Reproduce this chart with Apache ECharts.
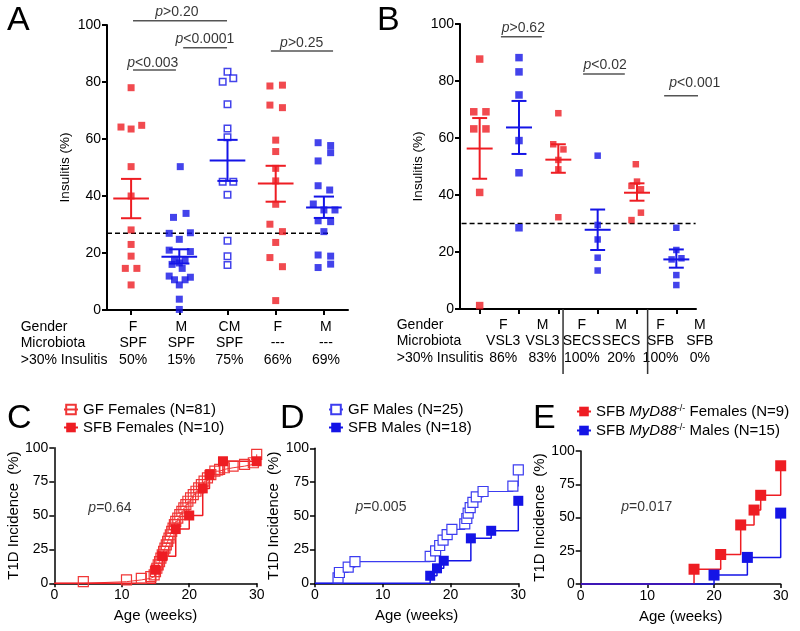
<!DOCTYPE html>
<html><head><meta charset="utf-8">
<script src="https://cdn.jsdelivr.net/npm/echarts@6/dist/echarts.min.js"></script>
<style>html,body{margin:0;padding:0;background:#fff}#c{width:800px;height:631px}</style>
</head><body><div id="c"></div>
<script>
const RED='#ee1d23', BLUE='#1414e6', PINK='#f03636', LBLUE='#3c3cf0';
const FONT='Liberation Sans, Arial, Helvetica, sans-serif';

// ---------- Panel A ----------
const aGender=['F','M','CM','F','M'];
const aMicro=['SPF','SPF','SPF','---','---'];
const aPct=['50%','15%','75%','66%','69%'];
const aF_SPF=[[1,78],[0.79,64.2],[1,63.5],[1.22,64.8],[1,50.3],[1,40],[1,28.1],[1,23],[1,18.9],[0.88,14.6],[1.12,14.6],[1,8.8]];
const aM_SPF=[[2.02,50.3],[1.88,32.5],[2.14,33.9],[1.79,26.9],[2.23,27.1],[2,24.8],[1.79,21],[2.23,20.5],[1.9,17.8],[2.12,17.6],[1.85,16],[2,16.5],[2.06,14.6],[1.79,11.9],[2.23,11.5],[1.9,10.6],[2.12,10.6],[2,8.8],[2,3.8],[2,0.2]];
const aCM_SPF=[[3,83.6],[2.9,80.1],[3.12,81.3],[3,72.2],[3,63.7],[3,60.6],[2.9,45],[3.12,45],[3,40.4],[3,24.3],[3,18.9],[3,15.8]];
const aF_GF=[[3.88,78.6],[4.14,78.9],[3.88,71.9],[4.14,71],[4,59.6],[4,55.6],[4,49.7],[4,45.3],[4,37.1],[3.88,30.1],[4.14,27.5],[4,23.7],[3.88,18.4],[4.14,15.2],[4,3.3]];
const aM_GF=[[4.88,58.7],[5.14,57.7],[5.14,55.2],[4.88,52.3],[4.88,43.6],[5.12,42.1],[4.78,37.2],[5,35.1],[5.23,35.1],[4.88,31.3],[5.14,31],[5,27.5],[4.88,19.3],[5.14,18.9],[4.88,14.9],[5.14,16.1]];
// [x, mean, low, high]
const aErr=[[1,39.1,32.2,46],[2,18.7,16.3,21.3],[3,52.5,45.3,59.7],[4,44.4,38,50.6],[5,36,32.3,39.8]];
const aErrColor=[RED,BLUE,BLUE,RED,BLUE];
const aThreshold=26.9;
const aSig=[[1.04,2.99,101.5],[2.08,2.99,92],[1.04,1.93,84.2],[3.9,5.19,90.9]];
const aSigText=[[1.95,104.6,'>0.20'],[2.53,95.1,'<0.0001'],[1.45,86.7,'<0.003'],[4.54,93.7,'>0.25']];

// ---------- Panel B ----------
const bGender=['F','M','F','M','F','M'];
const bMicro=['VSL3','VSL3','SECS','SECS','SFB','SFB'];
const bPct=['86%','83%','100%','20%','100%','0%'];
const bF_VSL3=[[1,87.7],[0.85,69.2],[1.16,69.2],[0.85,63.2],[1.16,63.2],[1,40.9],[1,1.2]];
const bM_VSL3=[[2,88.2],[2,83.2],[2,75.1],[2,59.1],[2,47.8],[2,28.5]];
const bF_SECS=[[3,68.7],[2.87,57.8],[3.13,56],[3,52.3],[3,49],[3,32.2]];
const bM_SECS=[[4,53.8],[4,29.5],[4,24.4],[4,18],[4,13.5]];
const bF_SFB=[[4.97,50.8],[4.86,43.2],[5,44.7],[5.1,42],[5.1,33.8],[4.86,31.2]];
const bM_SFB=[[6,28.5],[6,20.7],[5.88,17.4],[6.13,17.8],[6,11.9],[6,8.4]];
const bErr=[[1,56.3,45.7,67],[2,63.7,54.4,73],[3,52.4,47.8,57.8],[4,27.8,20.7,34.9],[5,40.8,38,44.1],[6,17.4,14.5,20.9]];
const bErrColor=[RED,BLUE,RED,BLUE,RED,BLUE];
const bThreshold=30;
const bSig=[[1.54,2.58,95.5],[3.63,4.69,82.5],[5.69,6.73,74.8]];
const bSigText=[[2.11,98.5,'>0.62'],[4.19,85.6,'<0.02'],[6.47,79.4,'<0.001']];
const bSeparators=[3.12,5.27];

// ---------- Panel C ----------
const cNames=['GF Females (N=81)','SFB Females (N=10)'];
const cGF=[[0,0],[4.3,1.2],[10.7,2.5],[12.9,3.7],[14.3,4.9],[14.8,6.2],[15,8.6],[15.2,11.1],[15.4,13.6],[15.6,16],[15.8,18.5],[16,21],[16.2,23.5],[16.4,25.9],[16.6,28.4],[16.8,30.9],[17,33.3],[17.2,35.8],[17.4,38.3],[17.6,40.7],[17.8,43.2],[18,45.7],[18.3,48.1],[18.6,50.6],[18.9,53.1],[19.2,55.6],[19.5,58],[19.8,60.5],[20.2,63],[20.6,65.4],[21,67.9],[21.4,70.4],[21.8,72.8],[22.2,75.3],[22.7,77.8],[23.2,80.2],[23.8,82.7],[24.5,84],[25.2,85.2],[26.5,86.4],[28.2,87.7],[29.5,88.9],[30,95.1]];
const cSFB=[[0,0],[15,10],[16,20],[18,40],[20,50],[22,70],[23,80],[25,90],[30,90]];
const cP=[8.25,55.5,'=0.64'];

// ---------- Panel D ----------
const dNames=['GF Males (N=25)','SFB Males (N=18)'];
const dGF=[[0,0],[3.4,4],[3.6,8],[4.9,12],[5.9,16],[17,20],[17.8,24],[18.4,28],[18.9,32],[19.5,36],[20.2,40],[22.1,44],[22.4,48],[22.6,52],[22.9,56],[23.3,60],[23.8,64],[24.8,68],[29.2,72],[30,84]];
const dSFB=[[0,0],[17,5.6],[18,11.1],[19,16.7],[23,33.3],[26,38.9],[30,61.1]];
const dP=[9.73,56.3,'=0.005'];

// ---------- Panel E ----------
const eNames=['SFB MyD88-/- Females (N=9)','SFB MyD88-/- Males (N=15)'];
const eF=[[0,0],[17,11.1],[21,22.2],[24,44.4],[26,55.6],[27,66.7],[30,88.9]];
const eM=[[0,0],[20,6.7],[25,20],[30,53.3]];
const eP=[9.9,57.7,'=0.017'];

// ---------- helpers ----------
function errRenderer(meanHalf, capHalf){
  return function(params, api){
    const x=api.value(0), m=api.value(1), lo=api.value(2), hi=api.value(3);
    const c=api.coord([x,m]), l=api.coord([x,lo]), h=api.coord([x,hi]);
    const u=api.size([1,0])[0];
    const st={stroke:api.visual('color'), lineWidth:2};
    return {type:'group', children:[
      {type:'line', shape:{x1:c[0]-meanHalf*u,y1:c[1],x2:c[0]+meanHalf*u,y2:c[1]}, style:st},
      {type:'line', shape:{x1:l[0],y1:l[1],x2:h[0],y2:h[1]}, style:st},
      {type:'line', shape:{x1:l[0]-capHalf*u,y1:l[1],x2:l[0]+capHalf*u,y2:l[1]}, style:st},
      {type:'line', shape:{x1:h[0]-capHalf*u,y1:h[1],x2:h[0]+capHalf*u,y2:h[1]}, style:st}
    ]};
  };
}
function dots(xi, yi, data, color, size, hollow){
  return {type:'scatter', xAxisIndex:xi, yAxisIndex:yi, data, symbol:'rect', symbolSize:size, clip:false, z:3,
    itemStyle: hollow ? {color:'#fff', borderColor:color, borderWidth:1.5} : {color}};
}
function segLine(xi, yi, pts, color, width, dash){
  return {type:'line', xAxisIndex:xi, yAxisIndex:yi, data:pts, symbol:'none', clip:false, silent:true, z:2,
    lineStyle:{color, width, type: dash || 'solid'}};
}
function pTexts(xi, yi, list, size){
  return {type:'scatter', xAxisIndex:xi, yAxisIndex:yi, symbolSize:0, clip:false, silent:true,
    data:list.map(t=>({value:[t[0],t[1]], name:t[2]})),
    label:{show:true, position:'inside', formatter:p=>'{i|p}{n|'+p.name+'}',
      rich:{i:{fontSize:size,fontStyle:'italic',color:'#000',fontFamily:FONT}, n:{fontSize:size,color:'#000',fontFamily:FONT}}}};
}
function kmSeries(xi, yi, name, data, color, lw, size, fill){
  return {type:'line', name, xAxisIndex:xi, yAxisIndex:yi, step:'end', clip:false,
    data:data.map((d,i)=> i===0 ? {value:d, symbol:'none'} : d),
    symbol:'rect', symbolSize:size, showAllSymbol:true,
    lineStyle:{color, width:lw},
    itemStyle:{color:fill, borderColor:color, borderWidth: fill===color ? 0 : 1.2}};
}
function yAx(grid, interval, name, nameSize, nameGap, lw){
  return {type:'value', gridIndex:grid, min:0, max:100, interval, name, nameLocation:'middle', nameGap,
    nameTextStyle:{fontSize:nameSize,color:'#000',fontFamily:FONT},
    axisLine:{show:true,onZero:false,lineStyle:{color:'#000',width:lw}},
    axisTick:{show:true,length:5,lineStyle:{color:'#000',width:lw}},
    axisLabel:{fontSize:14,color:'#000',margin:6,fontFamily:FONT}, splitLine:{show:false}};
}
function xAge(grid){
  return {type:'value', gridIndex:grid, min:0, max:30, interval:10, name:'Age (weeks)', nameLocation:'middle', nameGap:25,
    nameTextStyle:{fontSize:15,color:'#000',fontFamily:FONT},
    axisLine:{show:true,onZero:false,lineStyle:{color:'#000',width:1.5}},
    axisTick:{show:true,length:4,lineStyle:{color:'#000',width:1.5}},
    axisLabel:{fontSize:14,color:'#000',margin:5,fontFamily:FONT}, splitLine:{show:false}};
}
function catAx(grid, n, gender, micro, pct, margin, padLeft){
  return {type:'category', gridIndex:grid, position:'bottom', data:gender.map((g,i)=>String(i)),
    axisLine:{show:true,onZero:false,lineStyle:{color:'#000',width:2}},
    axisTick:{show:true,alignWithLabel:true,length:5,lineStyle:{color:'#000',width:2}},
    axisLabel:{interval:0, fontSize:14, lineHeight:16.5, color:'#000', margin, padding:[0,0,0,padLeft], fontFamily:FONT,
      formatter:(v,i)=>gender[i]+'\n'+micro[i]+'\n'+pct[i]}, splitLine:{show:false}};
}
function legend(left, top, names, gap, formatter){
  const l={orient:'vertical', left, top, padding:0, data:names, itemWidth:14, itemHeight:12, itemGap:gap, selectedMode:false,
    textStyle:{fontSize:15,color:'#000',fontFamily:FONT,
      rich:{n:{fontSize:15,color:'#000',fontFamily:FONT}, i:{fontSize:15,fontStyle:'italic',color:'#000',fontFamily:FONT}, s:{fontSize:9,verticalAlign:'top',color:'#000',fontFamily:FONT}}}};
  if(formatter) l.formatter=formatter;
  return l;
}

const series=[];
// A: xAxis 0 (value), yAxis 0
series.push(dots(0,0,aF_SPF,RED,7));
series.push(dots(0,0,aM_SPF,BLUE,7));
series.push(dots(0,0,aCM_SPF,BLUE,6.5,true));
series.push(dots(0,0,aF_GF,RED,7));
series.push(dots(0,0,aM_GF,BLUE,7));
series.push({type:'custom', xAxisIndex:0, yAxisIndex:0, renderItem:errRenderer(0.37,0.21), clip:false, z:4,
  data:aErr.map((d,i)=>({value:d, itemStyle:{color:aErrColor[i]}}))});
series.push(segLine(0,0,[[0.5,aThreshold],[5.09,aThreshold]],'#000',1.5,[5,3]));
aSig.forEach(s=>series.push(segLine(0,0,[[s[0],s[2]],[s[1],s[2]]],'#555',1.5)));
series.push(pTexts(0,0,aSigText,14));

// B: xAxis 2 (value), yAxis 1
series.push(dots(2,1,bF_VSL3,RED,7.5));
series.push(dots(2,1,bM_VSL3,BLUE,7.5));
series.push(dots(2,1,bF_SECS,RED,6.5));
series.push(dots(2,1,bM_SECS,BLUE,6.5));
series.push(dots(2,1,bF_SFB,RED,6.5));
series.push(dots(2,1,bM_SFB,BLUE,6.5));
series.push({type:'custom', xAxisIndex:2, yAxisIndex:1, renderItem:errRenderer(0.33,0.19), clip:false, z:4,
  data:bErr.map((d,i)=>({value:d, itemStyle:{color:bErrColor[i]}}))});
series.push(segLine(2,1,[[0.54,bThreshold],[6.49,bThreshold]],'#000',1.5,[5,3]));
bSig.forEach(s=>series.push(segLine(2,1,[[s[0],s[2]],[s[1],s[2]]],'#555',1.5)));
bSeparators.forEach(x=>series.push(segLine(2,1,[[x,0],[x,-22.8]],'#333',1.5)));
series.push(pTexts(2,1,bSigText,14));

// C: xAxis 4, yAxis 2
series.push(kmSeries(4,2,cNames[0],cGF,PINK,1,10,'rgba(255,255,255,0)'));
series.push(kmSeries(4,2,cNames[1],cSFB,RED,1.5,10,RED));
series.push(pTexts(4,2,[cP],14));
// D: xAxis 5, yAxis 3
series.push(kmSeries(5,3,dNames[0],dGF,LBLUE,1.2,10,'#fff'));
series.push(kmSeries(5,3,dNames[1],dSFB,BLUE,1.5,10,BLUE));
series.push(pTexts(5,3,[dP],14));
// E: xAxis 6, yAxis 4
series.push(kmSeries(6,4,eNames[0],eF,RED,1.5,11,RED));
series.push(kmSeries(6,4,eNames[1],eM,BLUE,1.5,11,BLUE));
series.push(pTexts(6,4,[eP],14));

const rowHead='Gender\nMicrobiota\n>30% Insulitis';
const letterStyle=t=>({text:t, fontSize:34, fontFamily:FONT, fill:'#000', align:'left', verticalAlign:'middle'});

const option={
  animation:false,
  textStyle:{fontFamily:FONT},
  grid:[
    {left:107, top:25, width:241, height:285},
    {left:460, top:24, width:236, height:285},
    {left:54.3, top:447.7, width:202.4, height:135.6},
    {left:315, top:448.3, width:203.3, height:135},
    {left:580.7, top:451, width:200, height:133}
  ],
  xAxis:[
    {type:'value', gridIndex:0, min:0.5, max:5.5, show:false, position:'top'},
    catAx(0,5,aGender,aMicro,aPct,8.7,4),
    {type:'value', gridIndex:1, min:0.5, max:6.5, show:false, position:'top'},
    catAx(1,6,bGender,bMicro,bPct,7.7,47),
    xAge(2), xAge(3), xAge(4)
  ],
  yAxis:[
    yAx(0,20,'Insulitis (%)',13.5,35,2),
    yAx(1,20,'Insulitis (%)',13.5,35,2),
    yAx(2,25,'T1D Incidence  (%)',15,23,1.5),
    yAx(3,25,'T1D Incidence  (%)',15,21,1.5),
    yAx(4,25,'T1D Incidence  (%)',15,22,1.5)
  ],
  legend:[
    legend(63,402,cNames,3),
    legend(328,402,dNames,3),
    legend(576,404,eNames,4,name=> name===eNames[0] ? '{n|SFB }{i|MyD88}{s|-/-}{n| Females (N=9)}' : '{n|SFB }{i|MyD88}{s|-/-}{n| Males (N=15)}')
  ],
  graphic:[
    {type:'text', x:7, y:21, style:letterStyle('A')},
    {type:'text', x:377, y:21, style:letterStyle('B')},
    {type:'text', x:7, y:419, style:letterStyle('C')},
    {type:'text', x:280, y:419, style:letterStyle('D')},
    {type:'text', x:533, y:419, style:letterStyle('E')},
    {type:'text', x:20.7, y:318.7, style:{text:rowHead, fontSize:14, lineHeight:16.5, fontFamily:FONT, fill:'#000', align:'left', verticalAlign:'top'}},
    {type:'text', x:396.7, y:316.7, style:{text:rowHead, fontSize:14, lineHeight:16.6, fontFamily:FONT, fill:'#000', align:'left', verticalAlign:'top'}}
  ],
  series
};
const chart=echarts.init(document.getElementById('c'));
chart.setOption(option);
</script></body></html>
